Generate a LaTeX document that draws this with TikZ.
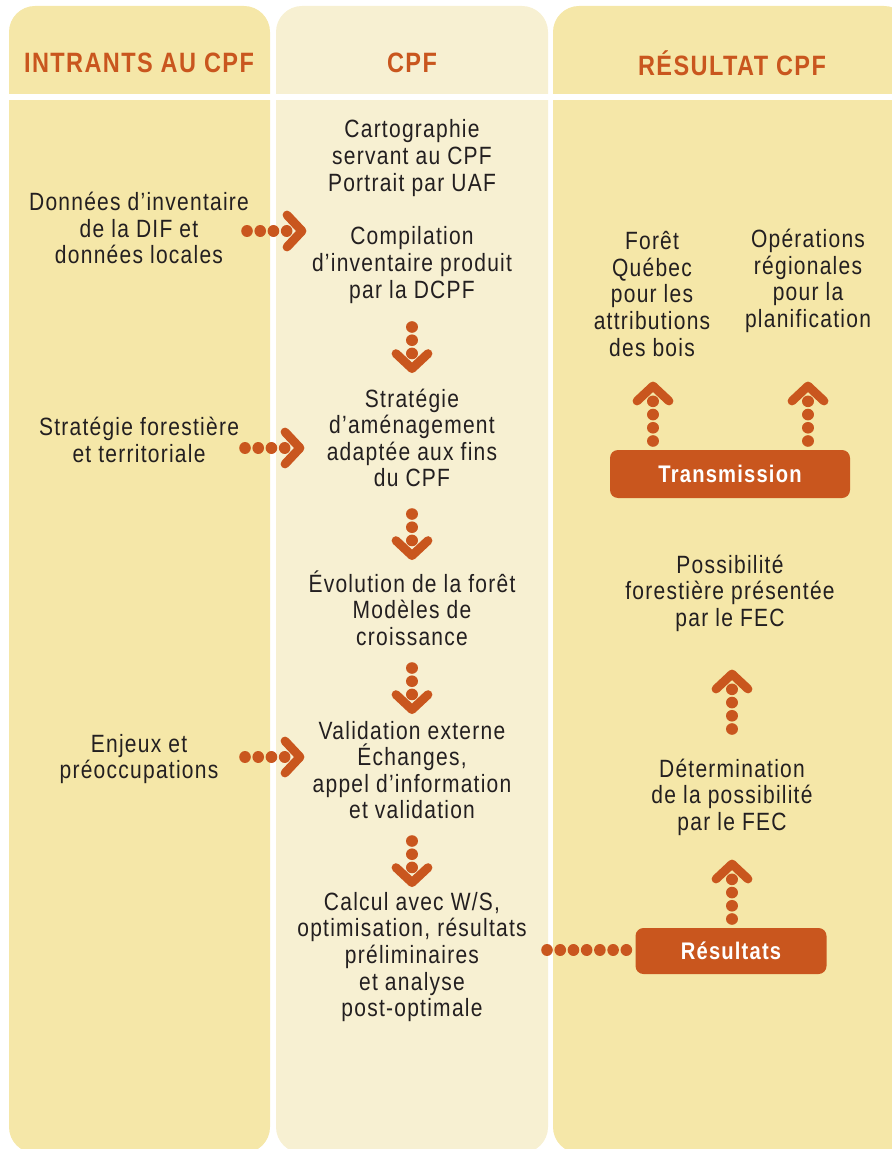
\documentclass[tikz,border=0pt]{standalone}
\usepackage{fontspec}
\setmainfont{Liberation Sans}[FakeStretch=0.84,LetterSpace=5]
\usepackage{tikz}
\pgfdeclarelayer{bg}
\pgfsetlayers{bg,main}
\definecolor{sand}{RGB}{245,231,168}
\definecolor{cream}{RGB}{247,240,210}
\definecolor{rust}{RGB}{201,86,30}
\definecolor{ink}{RGB}{35,31,32}
\tikzset{
    every node/.style={inner sep=0mm, text=ink, align=center, font=\fontsize{12.5}{13.3}\selectfont}
}
\tikzset{head/.style={text=rust, font=\bfseries\fontsize{14}{16}\selectfont}}
\tikzset{tag/.style={fill=rust, rounded corners=4pt, text=white, font=\bfseries\fontsize{12}{14}\selectfont}}
\tikzset{dots/.style={draw=rust, line width=5.8pt, line cap=round, dash pattern=on 0.01pt off 6.6pt}}
\tikzset{chev/.pic={\draw[rust, line width=4.4pt, line cap=round, line join=round] (0,16) -- (15,0) -- (0,-16);}}

\begin{document}
\begin{tikzpicture}[x=0.5pt, y=0.5pt]
        \clip (0,0) rectangle (892,-1149);
        % titres
        \node (h0) [head] at (139,-63) {INTRANTS AU CPF};
        \node (h1) [head] at (412,-63) {CPF};
        \node (h2) [head] at (732,-63) {RÉSULTAT CPF};
        % intrants
        \node (i0) at (139,-228) {Données d’inventaire\\de la DIF et\\données locales};
        \node (i1) at (139,-440) {Stratégie forestière\\et territoriale};
        \node (i2) at (139,-759) {Enjeux et\\préoccupations};
        % CPF
        \node (c0) at (412,-158) {Cartographie\\servant au CPF\\Portrait par UAF};
        \node (c1) at (412,-265) {Compilation\\d’inventaire produit\\par la DCPF};
        \node (c2) at (412,-438) {Stratégie\\d’aménagement\\adaptée aux fins\\du CPF};
        \node (c3) at (412,-608) {Évolution de la forêt\\Modèles de\\croissance};
        \node (c4) at (412,-770) {Validation externe\\Échanges,\\appel d’information\\et validation};
        \node (c5) at (412,-957) {Calcul avec W/S,\\optimisation, résultats\\préliminaires\\et analyse\\post-optimale};
        % resultat
        \node (r0) at (652,-294) {Forêt\\Québec\\pour les\\attributions\\des bois};
        \node (r1) at (808,-281) {Opérations\\régionales\\pour la\\planification};
        \node (t0) [tag, minimum width=120pt, minimum height=24pt] at (730,-474) {Transmission};
        \node (r2) at (730,-593) {Possibilité\\forestière présentée\\par le FEC};
        \node (r3) at (732,-797) {Détermination\\de la possibilité\\par le FEC};
        \node (s0) [tag, minimum width=95.5pt, minimum height=23pt] at (731,-951) {Résultats};
        % fleches
        \coordinate (a0) at (247,-231);
        \coordinate (b0) at (287,-231);
        \coordinate (a1) at (245,-448);
        \coordinate (b1) at (285,-448);
        \coordinate (a2) at (245,-757);
        \coordinate (b2) at (285,-757);
        \coordinate (a3) at (412,-327);
        \coordinate (b3) at (412,-353.6);
        \coordinate (a4) at (412,-514);
        \coordinate (b4) at (412,-540.6);
        \coordinate (a5) at (412,-668);
        \coordinate (b5) at (412,-694.6);
        \coordinate (a6) at (412,-841);
        \coordinate (b6) at (412,-867.6);
        \coordinate (a7) at (653,-441);
        \coordinate (b7) at (653,-401);
        \coordinate (a8) at (808,-441);
        \coordinate (b8) at (808,-401);
        \coordinate (a9) at (732,-729);
        \coordinate (b9) at (732,-689);
        \coordinate (a10) at (732,-919);
        \coordinate (b10) at (732,-879);
        \coordinate (a11) at (547,-950);
        \draw[dots] (a0) -- (b0);
        \draw[dots] (a1) -- (b1);
        \draw[dots] (a2) -- (b2);
        \draw[dots] (a3) -- (b3);
        \draw[dots] (a4) -- (b4);
        \draw[dots] (a5) -- (b5);
        \draw[dots] (a6) -- (b6);
        \draw[dots] (a7) -- (b7);
        \draw[dots] (a8) -- (b8);
        \draw[dots] (a9) -- (b9);
        \draw[dots] (a10) -- (b10);
        \draw[dots] (a11) -- (a11 -| s0.west);
        \pic at (b0) {chev};
        \pic at (b1) {chev};
        \pic at (b2) {chev};
        \pic[rotate=-90] at (b3) {chev};
        \pic[rotate=-90] at (b4) {chev};
        \pic[rotate=-90] at (b5) {chev};
        \pic[rotate=-90] at (b6) {chev};
        \pic[rotate=90] at (b7) {chev};
        \pic[rotate=90] at (b8) {chev};
        \pic[rotate=90] at (b9) {chev};
        \pic[rotate=90] at (b10) {chev};
        \begin{pgfonlayer}{bg}
                \fill[sand, rounded corners=13pt] (9,-6) rectangle (270,-1153);
                \fill[cream, rounded corners=13pt] (276,-6) rectangle (548,-1153);
                \fill[sand, rounded corners=13pt] (553,-6) rectangle (910,-1153);
                \fill[white] (0,-94) rectangle (892,-100);
        \end{pgfonlayer}
\end{tikzpicture}
\end{document}
